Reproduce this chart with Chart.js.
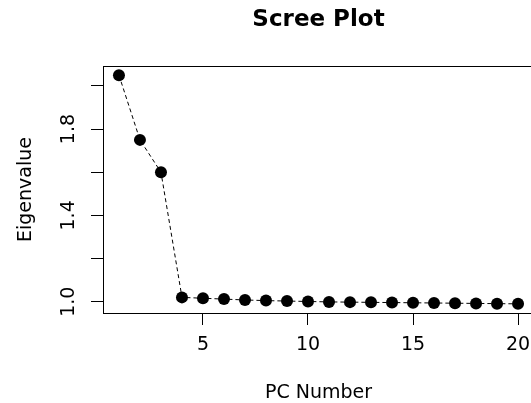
<!DOCTYPE html>
<html>
<head>
<meta charset="utf-8">
<script src="https://cdn.jsdelivr.net/npm/chart.js@4"></script>
<style>
  html, body { margin: 0; padding: 0; overflow: hidden; background: #fff; }
</style>
</head>
<body>
<canvas id="scree" width="560" height="403"></canvas>
<script>
// datos del scree plot
const pcNumbers = [1, 2, 3, 4, 5, 6, 7, 8, 9, 10, 11, 12, 13, 14, 15, 16, 17, 18, 19, 20];
const eigenvalues = [2.05, 1.75, 1.60, 1.02, 1.016, 1.012, 1.008, 1.005, 1.003, 1.001,
                     0.999, 0.998, 0.997, 0.996, 0.995, 0.994, 0.993, 0.992, 0.991, 0.99];
const xTicks = [5, 10, 15, 20];
const yTicks = [1.0, 1.2, 1.4, 1.6, 1.8, 2.0];
const yLabels = [1.0, 1.4, 1.8];

const FONT = 'DejaVu Sans';

// caja, titulos y etiquetas verticales del eje y (estilo R)
const rStyle = {
    id: 'rStyle',
    afterDraw(chart) {
        const { ctx, chartArea: a, scales } = chart;
        ctx.save();
        ctx.strokeStyle = '#000';
        ctx.lineWidth = 1;
        ctx.strokeRect(Math.round(a.left) + 0.5, Math.round(a.top) + 0.5,
                       Math.round(a.right - a.left), Math.round(a.bottom - a.top));

        ctx.fillStyle = '#000';
        ctx.textAlign = 'center';
        ctx.textBaseline = 'middle';
        const cx = (a.left + a.right) / 2;

        ctx.font = 'bold 23px ' + FONT;
        ctx.fillText('Scree Plot', cx, 20);

        ctx.font = '19px ' + FONT;
        ctx.fillText('PC Number', cx, 393);

        ctx.save();
        ctx.translate(26, (a.top + a.bottom) / 2);
        ctx.rotate(-Math.PI / 2);
        ctx.fillText('Eigenvalue', 0, 0);
        ctx.restore();

        yLabels.forEach(v => {
            const y = scales.y.getPixelForValue(v);
            ctx.save();
            ctx.translate(69, y);
            ctx.rotate(-Math.PI / 2);
            ctx.fillText(v.toFixed(1), 0, 0);
            ctx.restore();
        });
        ctx.restore();
    }
};

new Chart(document.getElementById('scree'), {
    type: 'line',
    data: {
        labels: pcNumbers,
        datasets: [{
            data: pcNumbers.map((x, i) => ({ x: x, y: eigenvalues[i] })),
            borderColor: '#000',
            borderWidth: 1,
            borderDash: [4, 3],
            pointRadius: 6,
            pointBackgroundColor: '#000',
            pointBorderWidth: 0,
            tension: 0,
            clip: false
        }]
    },
    options: {
        responsive: false,
        devicePixelRatio: 1,
        animation: false,
        layout: { padding: { top: 66, right: 26, left: 0, bottom: 0 } },
        plugins: { legend: { display: false }, title: { display: false }, tooltip: { enabled: false } },
        scales: {
            x: {
                type: 'linear',
                min: 0.24,
                max: 20.76,
                afterBuildTicks: s => { s.ticks = xTicks.map(v => ({ value: v })); },
                afterFit: s => { s.height = 90; },
                grid: { drawOnChartArea: false, drawTicks: true, tickLength: 12, color: '#000' },
                border: { display: false },
                ticks: { color: '#000', font: { family: FONT, size: 19 }, padding: 9, maxRotation: 0 }
            },
            y: {
                type: 'linear',
                min: 0.9476,
                max: 2.0924,
                afterBuildTicks: s => { s.ticks = yTicks.map(v => ({ value: v })); },
                afterFit: s => { s.width = 103; },
                grid: { drawOnChartArea: false, drawTicks: true, tickLength: 12, color: '#000' },
                border: { display: false },
                ticks: { display: false }
            }
        }
    },
    plugins: [rStyle]
});
</script>
</body>
</html>
